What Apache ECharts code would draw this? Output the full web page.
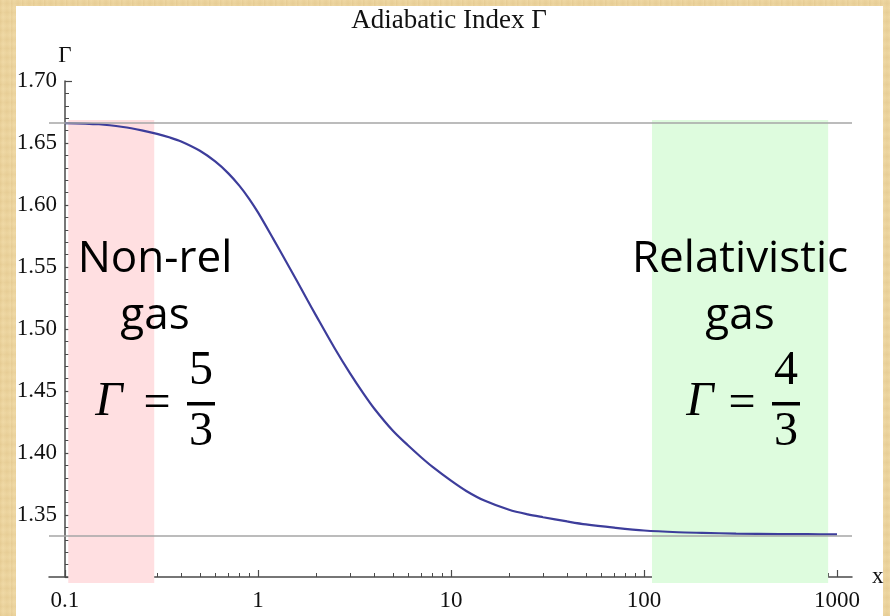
<!DOCTYPE html>
<html>
<head>
<meta charset="utf-8">
<script src="https://cdn.jsdelivr.net/npm/echarts@6/dist/echarts.min.js"></script>
<style>
  html, body { margin: 0; padding: 0; }
  body {
    width: 890px; height: 616px; overflow: hidden;
    background-color: #ecd49e;
    background-image:
      repeating-linear-gradient(90deg, rgba(190,150,80,0.10) 0px, rgba(255,240,200,0.10) 3px, rgba(190,150,80,0.06) 7px, rgba(255,240,200,0.12) 11px),
      repeating-linear-gradient(0deg, rgba(190,150,80,0.08) 0px, rgba(255,240,200,0.10) 5px, rgba(190,150,80,0.05) 9px);
  }
  #chart { position: absolute; left: 0; top: 0; width: 890px; height: 616px; }
</style>
</head>
<body>
<div id="chart"></div>
<script>
// Temperature parameter x (log scale) and the adiabatic index Γ of the gas
const xValues = [0.1, 0.15, 0.2, 0.25, 0.3, 0.35, 0.4, 0.5, 0.6, 0.7, 0.8, 0.9, 1.0, 1.2, 1.4, 1.6, 1.8,
                 2.0, 2.5, 3.0, 3.5, 4, 5, 6, 7, 8, 10, 12, 15, 20, 25, 30, 40, 50, 70,
                 100, 150, 200, 300, 500, 700, 1000];
const gammaValues = [1.6661, 1.6651, 1.6629, 1.6602, 1.6574, 1.6544, 1.6512, 1.6437, 1.6351, 1.6257,
                     1.6156, 1.6050, 1.5940, 1.5727, 1.5542, 1.5381, 1.5236, 1.5108, 1.4843, 1.4642,
                     1.4485, 1.4359, 1.4179, 1.4060, 1.3966, 1.3890, 1.3777, 1.3694, 1.3614, 1.3542,
                     1.3505, 1.3482, 1.3448, 1.3424, 1.3398, 1.3375, 1.3361, 1.3356, 1.3350, 1.3346,
                     1.3345, 1.3343];

// Limiting values of Γ
const limitValues = [5 / 3, 4 / 3];

// Shaded regimes: [xFrom, xTo]
const nonRelBand = [0.104, 0.29];
const relBand = [110, 900];
const bandGamma = [1.2952, 1.6685];
const bandColors = ['#ffdfe1', '#defcde'];

// Axis ticks
const xTicks = [0.1, 1, 10, 100, 1000];
const xTickLabels = ['0.1', '1', '10', '100', '1000'];
const xMinorTicks = [0.2, 0.3, 0.4, 0.5, 0.6, 0.7, 0.8, 0.9,
                     2, 3, 4, 5, 6, 7, 8, 9,
                     20, 30, 40, 50, 60, 70, 80, 90,
                     200, 300, 400, 500, 600, 700, 800, 900];
const yRange = [1.30, 1.70];
const yStep = 0.05;

const serif = '"Liberation Serif", "Times New Roman", serif';
const sans = '"Open Sans", "Noto Sans", sans-serif';
const axisColor = '#4a4a4a';

const chart = echarts.init(document.getElementById('chart'), null, { renderer: 'canvas' });

const curveData = xValues.map((x, i) => [x, gammaValues[i]]);
const bandData = [
  [nonRelBand[0], nonRelBand[1], bandGamma[0], bandGamma[1], 0],
  [relBand[0], relBand[1], bandGamma[0], bandGamma[1], 1]
];

function fraction(cx, gx, num, den) {
  return [
    { type: 'text', x: gx, y: 402, style: { text: 'Γ', font: 'italic 48px ' + serif, fill: '#000', align: 'center', verticalAlign: 'middle' } },
    { type: 'text', x: cx - 44, y: 404, style: { text: '=', font: '48px ' + serif, fill: '#000', align: 'center', verticalAlign: 'middle' } },
    { type: 'rect', shape: { x: cx - 14, y: 402, width: 28, height: 3.5 }, style: { fill: '#000' } },
    { type: 'text', x: cx, y: 371, style: { text: num, font: '48px ' + serif, fill: '#000', align: 'center', verticalAlign: 'middle' } },
    { type: 'text', x: cx, y: 432, style: { text: den, font: '48px ' + serif, fill: '#000', align: 'center', verticalAlign: 'middle' } }
  ];
}

const option = {
  animation: false,
  grid: { left: 49, right: 38, top: 81, bottom: 39, containLabel: false },
  graphic: [
    { type: 'rect', z: -100, silent: true, shape: { x: 16, y: 6, width: 867, height: 612 }, style: { fill: '#ffffff' } },
    { type: 'text', z: 10, x: 449, y: 21, style: { text: 'Adiabatic Index Γ', font: '27px ' + serif, fill: '#111', align: 'center', verticalAlign: 'middle' } },
    { type: 'text', z: 10, x: 155, y: 259, style: { text: 'Non-rel', font: '44px ' + sans, fill: '#000', align: 'center', verticalAlign: 'middle' } },
    { type: 'text', z: 10, x: 155, y: 316, style: { text: 'gas', font: '44px ' + sans, fill: '#000', align: 'center', verticalAlign: 'middle' } },
    { type: 'text', z: 10, x: 740, y: 259, style: { text: 'Relativistic', font: '44px ' + sans, fill: '#000', align: 'center', verticalAlign: 'middle' } },
    { type: 'text', z: 10, x: 740, y: 316, style: { text: 'gas', font: '44px ' + sans, fill: '#000', align: 'center', verticalAlign: 'middle' } }
  ].concat(fraction(201, 109, '5', '3').map(e => Object.assign({ z: 10 }, e)))
   .concat(fraction(786, 700, '4', '3').map(e => Object.assign({ z: 10 }, e))),
  xAxis: [
    {
      type: 'log', logBase: 10, min: 0.08264, max: 1196,
      name: 'x', nameLocation: 'end', nameGap: 20,
      nameTextStyle: { fontFamily: serif, fontSize: 23, color: '#111', verticalAlign: 'middle', padding: [4, 0, 0, 0] },
      axisLine: { lineStyle: { color: axisColor, width: 1.5 } },
      axisTick: { inside: true, length: 7, customValues: xTicks, lineStyle: { color: axisColor, width: 1.2 } },
      axisLabel: {
        customValues: xTicks, margin: 12,
        fontFamily: serif, fontSize: 23, color: '#111',
        formatter: v => xTickLabels[xTicks.findIndex(t => Math.abs(Math.log10(t) - Math.log10(v)) < 1e-6)] || ''
      },
      splitLine: { show: false }, minorTick: { show: false }
    },
    {
      type: 'log', logBase: 10, min: 0.08264, max: 1196, position: 'bottom', gridIndex: 0,
      axisLine: { show: false },
      axisTick: { inside: true, length: 4, customValues: xMinorTicks, lineStyle: { color: axisColor, width: 1 } },
      axisLabel: { show: false },
      splitLine: { show: false }
    }
  ],
  yAxis: {
    type: 'value', min: yRange[0], max: yRange[1], interval: yStep, offset: -16,
    name: 'Γ', nameLocation: 'end', nameGap: 14,
    nameTextStyle: { fontFamily: serif, fontSize: 23, color: '#111' },
    axisLine: { show: true, lineStyle: { color: axisColor, width: 1.5 } },
    axisTick: { show: true, inside: true, length: 7, lineStyle: { color: axisColor, width: 1.2 } },
    minorTick: { show: true, splitNumber: 5, length: 4, lineStyle: { color: axisColor, width: 1 } },
    axisLabel: {
      margin: 8, fontFamily: serif, fontSize: 23, color: '#111',
      formatter: v => (v <= yRange[0] + 1e-9 ? '' : v.toFixed(2))
    },
    splitLine: { show: false }
  },
  series: [
    {
      // shaded regimes, drawn through the axes without clipping so they overhang the x axis a little
      name: 'regimes', type: 'custom', z: 1, silent: true, clip: false,
      data: bandData,
      renderItem: (params, api) => {
        const p0 = api.coord([api.value(0), api.value(3)]);
        const p1 = api.coord([api.value(1), api.value(2)]);
        return {
          type: 'rect',
          shape: { x: p0[0], y: p0[1], width: p1[0] - p0[0], height: p1[1] - p0[1] },
          style: { fill: bandColors[api.value(4)] }
        };
      }
    },
    {
      name: 'limits', type: 'line', data: [], z: 2, silent: true,
      markLine: {
        silent: true, symbol: 'none', label: { show: false }, precision: 8,
        lineStyle: { color: '#a6a6a6', width: 1.5, type: 'solid' },
        data: limitValues.map(v => ({ yAxis: v }))
      }
    },
    {
      name: 'Γ', type: 'line', data: curveData, z: 3,
      showSymbol: false, smooth: 0.3,
      lineStyle: { color: '#3d3d9b', width: 2.2 }
    }
  ]
};

chart.setOption(option);
</script>
</body>
</html>
